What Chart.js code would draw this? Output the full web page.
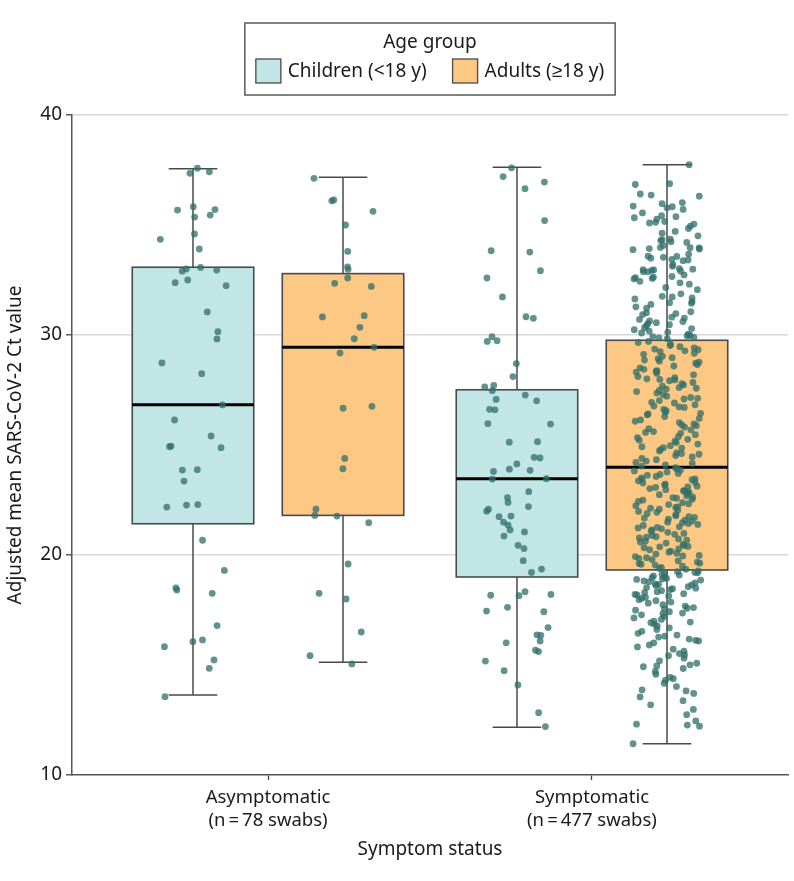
<!DOCTYPE html>
<html>
<head>
<meta charset="utf-8">
<script src="https://cdn.jsdelivr.net/npm/chart.js@4.4.1/dist/chart.umd.min.js"></script>
<style>
html,body{margin:0;padding:0;background:#fff;}
canvas{display:block;}
</style>
</head>
<body>
<canvas id="c" width="794" height="881"></canvas>
<script>
// ---------------- DATA ----------------
const categories = ['Asymptomatic', 'Symptomatic'];
const categoryTickLabels = [
  ['Asymptomatic', '(n\u2009=\u200978 swabs)'],
  ['Symptomatic', '(n\u2009=\u2009477 swabs)']
];
const groups = ['Children (<18 y)', 'Adults (\u226518 y)'];
const legendTitle = 'Age group';
const xTitle = 'Symptom status';
const yTitle = 'Adjusted mean SARS-CoV-2 Ct value';
const yTicks = [10, 20, 30, 40];

// box statistics per category (Asymptomatic, Symptomatic)
const childrenMin    = [13.64, 12.17];
const childrenQ1     = [21.42, 19.00];
const childrenMedian = [26.83, 23.47];
const childrenQ3     = [33.08, 27.51];
const childrenMax    = [37.56, 37.62];

const adultsMin    = [15.12, 11.42];
const adultsQ1     = [21.80, 19.32];
const adultsMedian = [29.44, 23.99];
const adultsQ3     = [32.79, 29.76];
const adultsMax    = [37.17, 37.74];

// individual swab values
const asymChildrenCt = [37.42, 37.58, 37.35, 35.68, 35.70, 35.45, 35.83, 35.36, 34.59, 34.35, 33.91, 33.07, 33.00, 32.95, 32.90, 32.50, 32.38, 32.24, 31.05, 30.15, 29.82, 28.73, 28.24, 26.82, 26.14, 25.41, 24.92, 24.88, 24.95, 23.86, 23.88, 23.36, 22.27, 22.29, 22.18, 20.67, 19.30, 18.50, 18.41, 18.26, 16.79, 16.14, 15.83, 16.06, 15.23, 14.85, 13.56];

const asymAdultsCt = [37.12, 36.14, 36.10, 35.62, 35.00, 33.80, 33.10, 32.98, 32.59, 32.35, 32.21, 30.88, 30.82, 30.35, 29.83, 29.44, 29.18, 26.76, 26.67, 24.39, 23.92, 22.08, 21.80, 21.77, 21.47, 19.59, 18.26, 18.00, 16.50, 15.42, 15.05];

const sympChildrenCt = [37.60, 37.20, 36.95, 36.65, 35.20, 33.77, 33.83, 32.92, 32.59, 31.73, 30.76, 30.83, 29.92, 29.71, 29.74, 28.70, 28.11, 27.71, 27.64, 27.47, 27.27, 27.01, 27.07, 26.60, 26.62, 25.95, 25.97, 25.15, 25.13, 24.44, 24.41, 24.14, 23.80, 23.90, 23.85, 23.47, 23.45, 22.88, 22.61, 22.39, 22.20, 22.08, 21.99, 21.74, 21.77, 21.49, 21.36, 21.14, 21.05, 20.86, 20.44, 20.29, 19.74, 19.36, 19.21, 18.17, 18.33, 18.15, 18.21, 17.62, 17.45, 17.42, 16.70, 16.35, 16.37, 16.01, 16.09, 15.67, 15.61, 15.18, 14.74, 14.09, 12.83, 12.20];

const sympAdultsCt = [
  37.74, 36.88, 36.84, 36.41, 36.36, 36.31, 35.97, 35.86, 35.78, 35.83, 35.71, 35.38, 35.33, 35.42, 35.27, 35.09, 35.16, 35.12, 35.04, 34.84,
  34.63, 34.51, 34.33, 34.21, 34.07, 33.96, 34.29, 34.36, 34.24, 33.93, 33.98, 33.91, 33.88, 33.97, 33.57, 33.38, 33.49, 33.44, 33.58, 33.41,
  33.53, 33.12, 32.96, 32.88, 32.99, 33.02, 32.91, 32.94, 32.87, 32.97, 32.73, 32.61, 32.63, 32.57, 32.66, 32.55, 32.37, 32.31, 32.06, 31.76,
  31.69, 31.64, 31.73, 31.44, 31.47, 31.39, 31.52, 31.01, 31.06, 30.97, 30.93, 30.81, 30.77, 30.61, 30.64, 30.52, 30.42, 30.47, 30.33, 30.29,
  30.24, 30.18, 30.13, 30.09, 30.04, 29.98, 29.93, 29.96, 29.87, 29.89, 29.83, 30.56, 30.71, 31.22, 31.28, 31.87, 32.16, 32.44, 33.21, 33.68,
  34.71, 35.55, 36.02, 34.95,
  29.71, 29.66, 29.58, 29.52, 29.47, 29.41, 29.33, 29.28, 29.24, 29.17, 29.12, 29.03, 28.97, 28.92, 28.86, 28.81, 28.72, 28.66, 28.59, 28.51,
  28.44, 28.38, 28.31, 28.26, 28.19, 28.11, 28.06, 28.01, 27.96, 27.92, 27.84, 27.79, 27.73, 27.67, 27.61, 27.54, 27.48, 27.43, 27.36, 27.29,
  27.22, 27.16, 27.09, 27.02, 26.94, 26.91, 26.83, 26.77, 26.71, 26.62, 26.56, 26.49, 26.41, 26.37, 26.29, 26.21, 26.14, 26.08, 26.02, 25.96,
  25.88, 25.81, 25.74, 25.69, 25.61, 25.53, 25.47, 25.38, 25.33, 25.26, 25.18, 25.11, 25.04, 24.97, 24.92, 24.86, 24.79, 24.73, 24.64, 24.58,
  24.52, 24.46, 24.39, 24.33, 24.27, 24.21, 24.16, 24.09, 24.04, 28.77, 27.98, 27.12, 26.44, 25.91, 25.22, 24.61, 28.34, 27.58, 26.73, 25.57,
  29.36, 24.88,
  23.97, 23.91, 23.86, 23.82, 23.77, 23.71, 23.66, 23.62, 23.57, 23.51, 23.46, 23.42, 23.37, 23.31, 23.27, 23.22, 23.18, 23.13, 23.07, 23.02,
  22.97, 22.93, 22.88, 22.84, 22.79, 22.74, 22.69, 22.64, 22.58, 22.53, 22.49, 22.44, 22.38, 22.33, 22.29, 22.24, 22.19, 22.13, 22.08, 22.03,
  21.98, 21.94, 21.89, 21.83, 21.78, 21.74, 21.68, 21.63, 21.58, 21.54, 21.49, 21.43, 21.39, 21.34, 21.28, 21.23, 21.19, 21.14, 21.08, 21.03,
  20.98, 20.94, 20.89, 20.83, 20.78, 20.73, 20.68, 20.63, 20.59, 20.54, 20.48, 20.43, 20.39, 20.33, 20.28, 20.24, 20.18, 20.13, 20.08, 20.04,
  19.98, 19.93, 19.88, 19.84, 19.79, 19.73, 19.68, 19.63, 19.58, 19.54, 19.49, 19.44, 19.39, 19.35, 23.44, 22.61, 21.71, 20.81, 19.96, 23.09,
  22.16, 21.26, 20.37, 19.61, 22.91, 21.47,
  19.28, 19.24, 19.21, 19.17, 19.13, 19.09, 19.05, 19.01, 18.97, 18.94, 18.89, 18.86, 18.82, 18.78, 18.73, 18.69, 18.64, 18.61, 18.56, 18.52,
  18.47, 18.43, 18.38, 18.33, 18.29, 18.24, 18.19, 18.14, 18.08, 18.03, 17.97, 17.92, 17.86, 17.81, 17.74, 17.68, 17.61, 17.55, 17.49, 17.42,
  17.36, 17.28, 17.21, 17.14, 17.07, 16.99, 16.92, 16.85, 16.77, 16.69, 16.61, 16.53, 16.44, 16.36, 16.27, 16.18, 16.09, 16.01, 15.91, 15.82,
  15.72, 15.63, 15.52, 15.42, 15.31, 15.19, 15.08, 14.96, 14.84, 14.71, 14.58, 14.44, 14.31, 14.17, 14.02, 13.87, 13.71, 13.55, 13.38, 13.19,
  12.98, 12.74, 12.46, 12.31, 12.27, 12.22, 11.42, 18.91, 18.66, 18.21, 17.58, 16.95, 16.31, 15.47, 14.92, 13.82, 19.19, 18.49, 17.33, 16.12,
  15.01, 14.38
];

// ---------------- STYLE / LAYOUT ----------------
const FONT = "'Noto Sans', 'Liberation Sans', Arial, sans-serif";
const TEXT_COLOR = '#1a1a1a';
const childrenFill = '#c1e6e5';
const adultsFill = '#fdc883';
const pointColor = 'rgba(48,112,106,0.76)';
const GROUP_OFFSET = 0.2315;   // x offset (category units) of each age group
const BOX_WIDTH = 0.375;       // category units
const CAP_WIDTH = 0.15;
const JITTER_HALF = 0.105;

Chart.defaults.font.family = FONT;
Chart.defaults.color = TEXT_COLOR;

function jitter(i, seed) {
  const s = Math.sin((i + 1) * 12.9898 + seed * 78.233) * 43758.5453;
  return (s - Math.floor(s)) - 0.5;
}

function pointsFor(values, catIndex, offset, seed) {
  return values.map((v, i) => ({
    x: catIndex + 1 + offset + jitter(i, seed) * 2 * JITTER_HALF,
    y: v
  }));
}

const boxSets = [
  { offset: -GROUP_OFFSET, fill: childrenFill, min: childrenMin, q1: childrenQ1, med: childrenMedian, q3: childrenQ3, max: childrenMax },
  { offset:  GROUP_OFFSET, fill: adultsFill,   min: adultsMin,   q1: adultsQ1,   med: adultsMedian,   q3: adultsQ3,   max: adultsMax }
];

const boxPlugin = {
  id: 'boxes',
  beforeDatasetsDraw(chart) {
    const { ctx, scales: { x, y } } = chart;
    const unit = x.getPixelForValue(1) - x.getPixelForValue(0);
    const halfBox = unit * BOX_WIDTH / 2;
    const halfCap = unit * CAP_WIDTH / 2;
    ctx.save();
    categories.forEach((cat, i) => {
      boxSets.forEach(s => {
        const cx = x.getPixelForValue(i + 1 + s.offset);
        const yMin = y.getPixelForValue(s.min[i]);
        const yQ1 = y.getPixelForValue(s.q1[i]);
        const yMed = y.getPixelForValue(s.med[i]);
        const yQ3 = y.getPixelForValue(s.q3[i]);
        const yMax = y.getPixelForValue(s.max[i]);
        // whiskers
        ctx.strokeStyle = '#4a4a4a';
        ctx.lineWidth = 1.5;
        ctx.beginPath();
        ctx.moveTo(cx, yQ3); ctx.lineTo(cx, yMax);
        ctx.moveTo(cx - halfCap, yMax); ctx.lineTo(cx + halfCap, yMax);
        ctx.moveTo(cx, yQ1); ctx.lineTo(cx, yMin);
        ctx.moveTo(cx - halfCap, yMin); ctx.lineTo(cx + halfCap, yMin);
        ctx.stroke();
        // box
        ctx.fillStyle = s.fill;
        ctx.fillRect(cx - halfBox, yQ3, 2 * halfBox, yQ1 - yQ3);
        ctx.strokeStyle = '#4a4a4a';
        ctx.lineWidth = 1.6;
        ctx.strokeRect(cx - halfBox, yQ3, 2 * halfBox, yQ1 - yQ3);
        // median
        ctx.strokeStyle = '#000';
        ctx.lineWidth = 3;
        ctx.beginPath();
        ctx.moveTo(cx - halfBox, yMed); ctx.lineTo(cx + halfBox, yMed);
        ctx.stroke();
      });
    });
    ctx.restore();
  }
};

const legendPlugin = {
  id: 'ageLegend',
  afterDraw(chart) {
    const ctx = chart.ctx;
    const area = chart.chartArea;
    const cx = (area.left + area.right) / 2;
    const fs = 19;
    ctx.save();
    ctx.font = fs + 'px ' + FONT;
    const w1 = ctx.measureText(groups[0]).width;
    const w2 = ctx.measureText(groups[1]).width;
    const sw = 25, sh = 24, gap = 7, itemGap = 26, padX = 11;
    const rowW = sw + gap + w1 + itemGap + sw + gap + w2;
    const left = cx - rowW / 2;
    // frame
    ctx.strokeStyle = '#5a5a5a';
    ctx.lineWidth = 1.5;
    ctx.strokeRect(left - padX, 23, rowW + 2 * padX, 72);
    // title
    ctx.fillStyle = TEXT_COLOR;
    ctx.textAlign = 'center';
    ctx.textBaseline = 'middle';
    ctx.fillText(legendTitle, cx, 43);
    // items
    const fills = [childrenFill, adultsFill];
    let xPos = left;
    groups.forEach((g, k) => {
      ctx.fillStyle = fills[k];
      ctx.fillRect(xPos, 59, sw, sh);
      ctx.strokeStyle = '#4a4a4a';
      ctx.lineWidth = 1.3;
      ctx.strokeRect(xPos, 59, sw, sh);
      ctx.fillStyle = TEXT_COLOR;
      ctx.textAlign = 'left';
      ctx.fillText(g, xPos + sw + gap, 71.5);
      xPos += sw + gap + (k === 0 ? w1 : w2) + itemGap;
    });
    ctx.restore();
  }
};

const pointDataset = (label, data) => ({
  type: 'scatter',
  label,
  data,
  pointRadius: 3.4,
  pointHoverRadius: 3.4,
  pointBackgroundColor: pointColor,
  pointBorderWidth: 0,
  showLine: false
});

const chart = new Chart(document.getElementById('c'), {
  type: 'scatter',
  data: {
    datasets: [
      pointDataset(categories[0] + ' – ' + groups[0], pointsFor(asymChildrenCt, 0, -GROUP_OFFSET, 1)),
      pointDataset(categories[0] + ' – ' + groups[1], pointsFor(asymAdultsCt, 0, GROUP_OFFSET, 2)),
      pointDataset(categories[1] + ' – ' + groups[0], pointsFor(sympChildrenCt, 1, -GROUP_OFFSET, 3)),
      pointDataset(categories[1] + ' – ' + groups[1], pointsFor(sympAdultsCt, 1, GROUP_OFFSET, 4))
    ]
  },
  options: {
    responsive: false,
    devicePixelRatio: 1,
    animation: false,
    events: [],
    layout: { padding: { top: 115, right: 6, bottom: 14, left: 0 } },
    plugins: {
      legend: { display: false },
      tooltip: { enabled: false }
    },
    scales: {
      x: {
        type: 'linear',
        min: 0.395,
        max: 2.605,
        afterBuildTicks: s => { s.ticks = categories.map((c, i) => ({ value: i + 1 })); },
        afterFit: s => { s.height = 92; },
        ticks: {
          callback: v => categoryTickLabels[Math.round(v) - 1],
          font: { size: 18.5, lineHeight: 1.25 },
          color: TEXT_COLOR,
          padding: 6,
          autoSkip: false,
          maxRotation: 0
        },
        grid: { drawOnChartArea: false, drawTicks: true, tickLength: 5, tickColor: '#444', tickWidth: 1.3 },
        border: { color: '#555', width: 1.5 },
        title: { display: true, text: xTitle, font: { size: 19 }, color: TEXT_COLOR, padding: { top: 0, bottom: 6 } }
      },
      y: {
        type: 'linear',
        min: 10,
        max: 40,
        afterBuildTicks: s => { s.ticks = yTicks.map(v => ({ value: v })); },
        afterFit: s => { s.width = 72; },
        ticks: { font: { size: 19 }, color: TEXT_COLOR, padding: 4 },
        grid: {
          color: c => (c.tick && c.tick.value === 10) ? 'rgba(0,0,0,0)' : '#d9d9d9',
          lineWidth: 1.6,
          drawTicks: true,
          tickLength: 6,
          tickColor: '#444',
          tickWidth: 1.3
        },
        border: { color: '#555', width: 1.5 },
        title: { display: true, text: yTitle, font: { size: 19 }, color: TEXT_COLOR, padding: { top: 4, bottom: 0 } }
      }
    }
  },
  plugins: [boxPlugin, legendPlugin]
});
</script>
</body>
</html>
